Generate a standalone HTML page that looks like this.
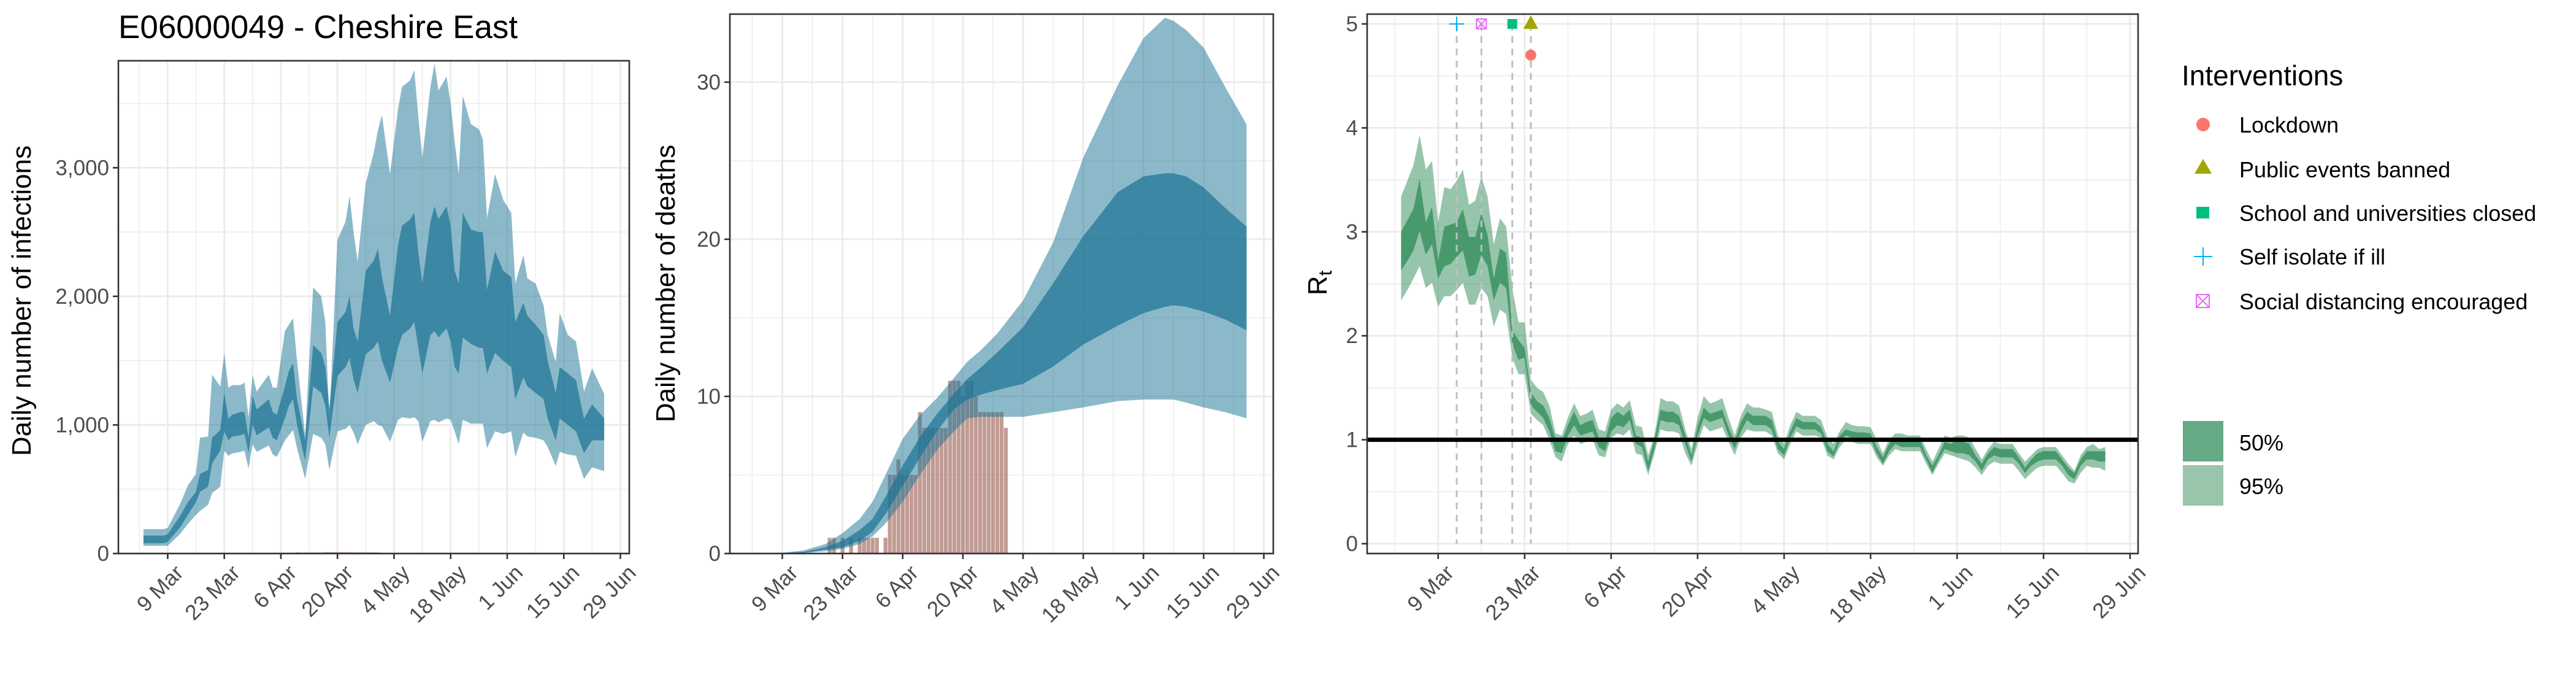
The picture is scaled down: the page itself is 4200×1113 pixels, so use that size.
<!DOCTYPE html>
<html><head><meta charset="utf-8"><style>
html,body{margin:0;padding:0;background:#fff}
svg{display:block;font-family:"Liberation Sans",Arial,sans-serif}
</style></head><body>
<svg id="chart" width="4200" height="1113" viewBox="0 0 4200 1113" xmlns="http://www.w3.org/2000/svg">
<rect width="4200" height="1113" fill="#fff"/>
<text x="193" y="62" font-size="53" fill="#000">E06000049 - Cheshire East</text>
<g id="p1"></g>
<g id="p2"></g>
<g id="p3"></g>
<g id="legend">
<text x="3557" y="139" font-size="46" fill="#000">Interventions</text>
<circle cx="3592" cy="203" r="11" fill="#f8766d"/>
<text x="3651" y="216" font-size="36">Lockdown</text>
<polygon points="3592,259 3578,283 3606,283" fill="#a3a500"/>
<text x="3651" y="289" font-size="36">Public events banned</text>
<rect x="3581" y="337" width="21" height="19" fill="#00bf7d"/>
<text x="3651" y="360" font-size="36">School and universities closed</text>
<g stroke="#00b0f6" stroke-width="2"><line x1="3577" y1="418" x2="3607" y2="418"/><line x1="3592" y1="403" x2="3592" y2="433"/></g>
<text x="3651" y="431" font-size="36">Self isolate if ill</text>
<g stroke="#e76bf3" stroke-width="2" fill="none"><rect x="3581" y="480" width="21" height="21"/><line x1="3581" y1="480" x2="3602" y2="501"/><line x1="3602" y1="480" x2="3581" y2="501"/></g>
<text x="3651" y="504" font-size="36">Social distancing encouraged</text>
<rect x="3559" y="686" width="66" height="66" fill="#66a985"/>
<text x="3651" y="734" font-size="36">50%</text>
<rect x="3559" y="758" width="66" height="66" fill="#99c5ab"/>
<text x="3651" y="805" font-size="36">95%</text>
</g>
</svg>
<script>
// ---- shared date axis (days since 9 Mar) ----
const xTickDays = [0,14,28,42,56,70,84,98,112];
const xTickLabels = ["9 Mar","23 Mar","6 Apr","20 Apr","4 May","18 May","1 Jun","15 Jun","29 Jun"];
const xMinorDays = [-7,7,21,35,49,63,77,91,105];

// ---- panel 1: infections ----
const infDays = [-6,-1,0,3,5,7,8,10,11,13, 14,15,16,18,19,20,21,22,25,26, 27,29,30,31,32,34,36,38,39,40, 42,44,45,46,47,49,51,52,53,55, 57,58,60,61,62,63,65,66,67,69, 70,71,72,73,75,77,78,79,81,83, 85,86,88,89,91,93,94,96,97,99, 101,103,105,108];
const infU95 = [190,190,200,380,530,620,900,910,1390,1300, 1560,1290,1310,1310,1330,1060,1390,1260,1390,1290, 1290,1730,1780,1830,1500,920,2070,2000,1800,1050, 2440,2580,2780,2500,2270,2880,3120,3290,3410,2950, 3460,3630,3680,3760,3400,3080,3630,3810,3600,3710, 3500,3200,2950,3560,3340,3300,3220,2610,2950,2750, 2650,2100,2320,2140,2100,1930,1700,1490,1870,1700, 1650,1260,1440,1240];
const infU50 = [140,140,150,290,400,480,620,650,900,960, 1250,1050,1080,1100,1100,900,1230,1120,1200,1100, 1080,1300,1420,1480,1200,880,1620,1560,1450,1130, 1800,1880,2000,1750,1650,2200,2280,2370,2150,1850, 2400,2550,2600,2650,2350,2100,2580,2700,2600,2700, 2550,2200,2100,2650,2520,2500,2500,2050,2350,2200, 2150,1800,1950,1850,1780,1700,1500,1250,1450,1400, 1350,1050,1160,1050];
const infL50 = [80,80,90,200,300,400,480,520,700,800, 950,880,910,920,930,780,1000,920,980,900, 880,1050,1150,1200,1000,720,1300,1250,1150,900, 1380,1450,1520,1350,1250,1550,1600,1650,1500,1330, 1600,1700,1750,1800,1600,1400,1700,1730,1680,1750, 1650,1450,1400,1680,1630,1600,1600,1400,1560,1500, 1450,1200,1370,1300,1250,1200,1050,880,1050,1000, 950,780,880,880];
const infL95 = [60,60,60,150,230,300,330,380,470,520, 800,760,780,790,800,660,850,790,840,770, 750,880,920,960,820,580,930,900,850,650, 950,970,1000,940,850,1000,1030,1000,990,870, 1040,1060,1050,1060,1030,870,1030,1040,1020,1050, 1040,950,850,1040,1010,1010,1010,820,950,930, 950,750,940,910,900,880,830,680,790,770, 760,580,670,640];
const infYTicks = [0,1000,2000,3000];
const infYLabels = ["0","1,000","2,000","3,000"];
const infYMinor = [500,1500,2500,3500];

// ---- panel 2: deaths ----
const deathDays = [11,12,14,16,18,19,20,21,22,24, 25,26,27,28,29,30,31,32,33,34, 35,36,37,38,39,40,41,42,43,44, 45,46,47,48,49,50,51,52];
const deathVals = [1,1,1,1,1,1,1,1,1,1, 5,5,6,5,5,5,5,9,8,8, 8,8,8,8,11,11,11,10,11,11, 10,9,9,9,9,9,9,8];
const dthDays = [-6,0,5,10,14,18,21,24,28,32, 36,40,43,46,50,56,63,70,78,84, 89,91,94,98,103,108];
const dthU95 = [0,0.05,0.2,0.6,1.3,2.2,3.3,5,7.3,8.8, 9.9,11.2,12.2,12.9,14,16.1,19.8,25.2,29.8,32.8, 34.1,33.9,33.3,32.2,29.7,27.3];
const dthU50 = [0,0.03,0.1,0.4,0.8,1.5,2.2,3.6,5.6,7.4, 8.9,10.2,11.1,11.8,12.8,14.4,17.2,20.2,23,24, 24.2,24.2,24,23.3,22,20.8];
const dthL50 = [0,0.01,0.05,0.25,0.4,0.8,1.4,2.5,4.3,6.1, 7.8,9.2,9.8,10.1,10.4,10.8,11.9,13.3,14.5,15.3, 15.7,15.8,15.7,15.4,14.9,14.2];
const dthL95 = [0,0,0.03,0.15,0.3,0.6,1.1,1.9,3.3,5, 6.6,7.8,8.6,8.7,8.7,8.7,9,9.3,9.7,9.8, 9.8,9.8,9.6,9.3,9,8.6];
const dthYTicks = [0,10,20,30];
const dthYLabels = ["0","10","20","30"];
const dthYMinor = [5,15,25];

// ---- panel 3: Rt (daily from day -6) ----
const rtStartDay = -6;
const rtU95 = [3.34,3.49,3.64,3.93,3.60,3.68,3.09,3.43,3.41,3.49, 3.60,3.26,3.30,3.53,3.34,2.88,3.13,3.05,2.46,2.13, 2.13,1.58,1.50,1.46,1.33,1.06,1.04,1.21,1.35,1.23, 1.25,1.29,1.10,1.08,1.29,1.35,1.31,1.38,1.14,1.12, 0.85,1.04,1.40,1.37,1.37,1.33,1.10,0.91,1.21,1.42, 1.35,1.37,1.40,1.21,1.04,1.23,1.35,1.31,1.31,1.29, 1.27,1.04,0.96,1.14,1.27,1.23,1.23,1.23,1.19,1.02, 0.96,1.08,1.17,1.14,1.13,1.13,1.12,1.00,0.87,1.00, 1.06,1.06,1.04,1.04,1.04,0.91,0.79,0.91,1.04,1.02, 1.04,1.04,1.02,0.91,0.81,0.91,0.98,0.96,0.96,0.96, 0.87,0.79,0.85,0.91,0.93,0.93,0.93,0.85,0.77,0.70, 0.85,0.93,0.96,0.91,0.93];
const rtU50 = [3.00,3.11,3.22,3.51,3.09,3.24,2.72,3.05,3.07,3.09, 3.22,2.95,2.95,3.18,2.97,2.55,2.84,2.80,2.05,1.96, 1.88,1.46,1.37,1.33,1.21,1.00,0.98,1.14,1.27,1.14, 1.17,1.19,1.02,0.98,1.21,1.27,1.23,1.29,1.04,1.02, 0.79,1.00,1.29,1.27,1.27,1.23,1.04,0.85,1.12,1.31, 1.25,1.27,1.29,1.12,0.98,1.17,1.27,1.23,1.23,1.23, 1.19,0.98,0.91,1.08,1.21,1.17,1.17,1.17,1.12,0.96, 0.89,1.04,1.10,1.08,1.07,1.07,1.06,0.93,0.83,0.96, 1.02,1.00,1.00,1.00,1.00,0.85,0.75,0.85,0.98,0.96, 1.00,0.98,0.96,0.85,0.77,0.87,0.93,0.91,0.91,0.91, 0.83,0.73,0.81,0.87,0.89,0.89,0.89,0.81,0.73,0.68, 0.81,0.89,0.89,0.89,0.89];
const rtL50 = [2.63,2.72,2.82,3.01,2.78,2.88,2.55,2.67,2.69,2.76, 2.82,2.57,2.59,2.78,2.67,2.34,2.51,2.46,1.92,1.77, 1.79,1.33,1.27,1.21,1.08,0.89,0.87,1.04,1.14,1.04, 1.06,1.08,0.93,0.89,1.08,1.14,1.12,1.19,0.96,0.93, 0.70,0.91,1.19,1.17,1.17,1.14,0.96,0.79,1.04,1.21, 1.17,1.19,1.21,1.04,0.91,1.08,1.19,1.14,1.14,1.14, 1.10,0.91,0.85,1.02,1.13,1.10,1.10,1.10,1.06,0.89, 0.84,0.98,1.04,1.02,1.02,1.02,1.01,0.87,0.77,0.89, 0.96,0.93,0.93,0.93,0.93,0.81,0.68,0.81,0.91,0.89, 0.87,0.87,0.85,0.79,0.70,0.81,0.85,0.83,0.83,0.83, 0.77,0.68,0.75,0.79,0.81,0.81,0.81,0.75,0.66,0.62, 0.75,0.81,0.81,0.79,0.79];
const rtL95 = [2.34,2.44,2.55,2.67,2.46,2.51,2.28,2.38,2.38,2.44, 2.51,2.30,2.30,2.46,2.38,2.09,2.25,2.21,1.79,1.63, 1.63,1.25,1.19,1.14,1.00,0.83,0.79,0.96,1.04,0.96, 0.98,1.00,0.85,0.83,1.02,1.06,1.04,1.10,0.87,0.85, 0.66,0.87,1.10,1.08,1.08,1.06,0.87,0.75,0.96,1.14, 1.08,1.10,1.12,0.98,0.85,1.02,1.10,1.08,1.08,1.08, 1.04,0.87,0.81,0.96,1.08,1.04,1.04,1.04,1.02,0.85, 0.81,0.93,1.00,0.98,0.96,0.96,0.96,0.83,0.75,0.85, 0.91,0.89,0.89,0.89,0.89,0.77,0.66,0.77,0.87,0.85, 0.83,0.81,0.79,0.73,0.66,0.75,0.79,0.77,0.77,0.77, 0.70,0.62,0.68,0.73,0.75,0.75,0.75,0.68,0.60,0.58, 0.68,0.75,0.73,0.73,0.70];
const rtYTicks = [0,1,2,3,4,5];
const rtYMinor = [0.5,1.5,2.5,3.5,4.5];
const intvNames = ["Self isolate if ill","Social distancing encouraged","School and universities closed","Public events banned","Lockdown"];
const intvDays = [3,7,12,15,15];
const intvLevels = [5,5,5,5,4.7];

const NS = "http://www.w3.org/2000/svg";
function mk(parent, tag, attrs) {
  const e = document.createElementNS(NS, tag);
  for (const k in attrs) e.setAttribute(k, attrs[k]);
  parent.appendChild(e);
  return e;
}
function scale(d0, d1, r0, r1) { return v => r0 + (v - d0) / (d1 - d0) * (r1 - r0); }

function frame(g, P, yTicks, yLabels, yMinor) {
  const xs = P.x, ys = P.y;
  for (const d of xMinorDays) { const x = xs(d); if (x > P.x0 && x < P.x1) {
    const l = mk(g, "line", {x1:x, x2:x, y1:P.y0, y2:P.y1, stroke:"#ebebeb", "stroke-width":1.4});
    
     } }
  for (const v of yMinor) {
    const l = mk(g, "line", {x1:P.x0, x2:P.x1, y1:ys(v), y2:ys(v), stroke:"#ebebeb", "stroke-width":1.4});
    
     }
  xTickDays.forEach(d => { const x = xs(d);
    const l = mk(g, "line", {x1:x, x2:x, y1:P.y0, y2:P.y1, stroke:"#ebebeb", "stroke-width":2.8});
    
     });
  yTicks.forEach(v => {
    const l = mk(g, "line", {x1:P.x0, x2:P.x1, y1:ys(v), y2:ys(v), stroke:"#ebebeb", "stroke-width":2.8});
    
     });
}
function axes(g, P, yTicks, yLabels) {
  const xs = P.x, ys = P.y;
  const b = mk(g, "rect", {x:P.x0, y:P.y0, width:P.x1-P.x0, height:P.y1-P.y0, fill:"none", stroke:"#333", "stroke-width":2.6});
  
  
  xTickDays.forEach((d, i) => { const x = xs(d);
    const t = mk(g, "line", {x1:x, x2:x, y1:P.y1, y2:P.y1+9, stroke:"#333", "stroke-width":2.6});
    
    
    const tx = mk(g, "text", {x:x+10, y:P.y1+16, "font-size":35, fill:"#4d4d4d", "text-anchor":"end", "dominant-baseline":"hanging", transform:`rotate(-45 ${x+10} ${P.y1+16})`});
    tx.textContent = xTickLabels[i];
    
     });
  yTicks.forEach((v, i) => { const y = ys(v);
    const t = mk(g, "line", {x1:P.x0-9, x2:P.x0, y1:y, y2:y, stroke:"#333", "stroke-width":2.6});
    
    
    const tx = mk(g, "text", {x:P.x0-15, y:y+12, "font-size":35, fill:"#4d4d4d", "text-anchor":"end"});
    tx.textContent = yLabels[i];
    
     });
}
function band(g, xs, ys, days, up, lo, fill, op, name) {
  let pts = [];
  for (let i = 0; i < days.length; i++) pts.push(xs(days[i]).toFixed(1) + "," + ys(up[i]).toFixed(1));
  for (let i = days.length - 1; i >= 0; i--) pts.push(xs(days[i]).toFixed(1) + "," + ys(lo[i]).toFixed(1));
  const p = mk(g, "polygon", {points:pts.join(" "), fill:fill, "fill-opacity":op});
  
  
}
function bars(g, P) {
  const w = (P.x(1) - P.x(0)) * 0.9;
  deathDays.forEach((d, i) => {
    const y = P.y(deathVals[i]);
    const r = mk(g, "rect", {x:P.x(d)-w/2, y:y, width:w, height:P.y(0)-y, fill:"#a0675c", "fill-opacity":0.65});
    
     });
}
function ytitle(x, y, txt, name) {
  const t = mk(document.getElementById("chart"), "text", {x:x, y:y, "font-size":44, "text-anchor":"middle", transform:`rotate(-90 ${x} ${y})`});
  t.textContent = txt;
  
  
  return t;
}

// Panel 1
{
  const P = {x0:193, x1:1026, y0:99, y1:902};
  P.x = scale(-12.2, 114.2, P.x0, P.x1); P.y = scale(0, 3832, P.y1, P.y0);
  const g = document.getElementById("p1");
  frame(g, P, infYTicks, infYLabels, infYMinor);
  band(g, P.x, P.y, infDays, infU95, infL95, "#197394", 0.5, "infections-95-band");
  band(g, P.x, P.y, infDays, infU50, infL50, "#197394", 0.7, "infections-50-band");
  bars(g, P);
  axes(g, P, infYTicks, infYLabels);
  ytitle(50, 490, "Daily number of infections", "y-axis-title-infections");
}
// Panel 2
{
  const P = {x0:1190, x1:2076, y0:23, y1:902};
  P.x = scale(-12.2, 114.2, P.x0, P.x1); P.y = scale(0, 34.33, P.y1, P.y0);
  const g = document.getElementById("p2");
  frame(g, P, dthYTicks, dthYLabels, dthYMinor);
  bars(g, P);
  band(g, P.x, P.y, dthDays, dthU95, dthL95, "#197394", 0.5, "deaths-95-band");
  band(g, P.x, P.y, dthDays, dthU50, dthL50, "#197394", 0.7, "deaths-50-band");
  axes(g, P, dthYTicks, dthYLabels);
  ytitle(1100, 462, "Daily number of deaths", "y-axis-title-deaths");
}
// Panel 3
{
  const P = {x0:2229, x1:3486, y0:23, y1:902};
  P.x = scale(-11.5, 113.3, P.x0, P.x1); P.y = scale(0, 5, 886, 39);
  const g = document.getElementById("p3");
  frame(g, P, rtYTicks, rtYTicks.map(String), rtYMinor);
  const days = rtU95.map((_, i) => rtStartDay + i);
  band(g, P.x, P.y, days, rtU95, rtL95, "#2e8b57", 0.5, "rt-95-band");
  band(g, P.x, P.y, days, rtU50, rtL50, "#2e8b57", 0.75, "rt-50-band");
  intvDays.forEach((d, i) => {
    const l = mk(g, "line", {x1:P.x(d), x2:P.x(d), y1:P.y(5), y2:P.y(0), stroke:"#bfbfbf", "stroke-width":3, "stroke-dasharray":"11 9"});
    
    
  });
  const ref = mk(g, "line", {x1:P.x0, x2:P.x1, y1:P.y(1), y2:P.y(1), stroke:"#000", "stroke-width":7});
  
  
  intvNames.forEach((n, i) => {
    const x = P.x(intvDays[i]), y = P.y(intvLevels[i]);
    let m;
    if (n === "Lockdown") m = mk(g, "circle", {cx:x, cy:y, r:9, fill:"#f8766d"});
    else if (n === "Public events banned") m = mk(g, "polygon", {points:`${x},${y-14} ${x-12},${y+8} ${x+12},${y+8}`, fill:"#a3a500"});
    else if (n === "School and universities closed") m = mk(g, "rect", {x:x-8, y:y-8, width:16, height:16, fill:"#00bf7d"});
    else if (n === "Self isolate if ill") m = mk(g, "path", {d:`M${x-12},${y}H${x+12}M${x},${y-12}V${y+12}`, stroke:"#00b0f6", "stroke-width":2, fill:"none"});
    else m = mk(g, "path", {d:`M${x-8},${y-8}h16v16h-16zM${x-8},${y-8}l16,16M${x+8},${y-8}l-16,16`, stroke:"#e76bf3", "stroke-width":2, fill:"none"});
    
    
  });
  axes(g, P, rtYTicks, rtYTicks.map(String));
  const t = mk(document.getElementById("chart"), "text", {x:2163, y:461, "font-size":44, "text-anchor":"middle", transform:"rotate(-90 2163 461)"});
  
  
  t.innerHTML = 'R<tspan font-size="31" dy="8">t</tspan>';
}
</script>
</body></html>
